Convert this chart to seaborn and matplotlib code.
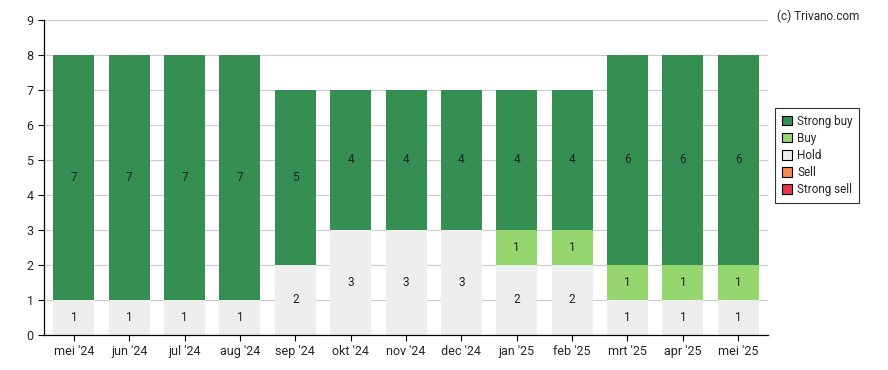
import pandas as pd
import numpy as np
import matplotlib
matplotlib.use("Agg")
import matplotlib.pyplot as plt
import seaborn as sns
from matplotlib.patches import Patch

# data
months = ["mei '24", "jun '24", "jul '24", "aug '24", "sep '24", "okt '24", "nov '24",
          "dec '24", "jan '25", "feb '25", "mrt '25", "apr '25", "mei '25"]
strong_sell = [0, 0, 0, 0, 0, 0, 0, 0, 0, 0, 0, 0, 0]
sell = [0, 0, 0, 0, 0, 0, 0, 0, 0, 0, 0, 0, 0]
hold = [1, 1, 1, 1, 2, 3, 3, 3, 2, 2, 1, 1, 1]
buy = [0, 0, 0, 0, 0, 0, 0, 0, 1, 1, 1, 1, 1]
strong_buy = [7, 7, 7, 7, 5, 4, 4, 4, 4, 4, 6, 6, 6]

series = [("Strong sell", strong_sell, "#e8334a"),
          ("Sell", sell, "#f98a4f"),
          ("Hold", hold, "#eeeeee"),
          ("Buy", buy, "#95d66e"),
          ("Strong buy", strong_buy, "#358f53")]

sns.set_style("white")
plt.rcParams['font.family'] = ['Roboto', 'DejaVu Sans']

fig = plt.figure(figsize=(8.88, 3.7), dpi=100)
ax = fig.add_axes([0.0495, 0.0946, 0.8155, 0.8514])

bottom = np.zeros(len(months))
for name, vals, col in series:
    vals = np.array(vals, dtype=float)
    df = pd.DataFrame({"month": months, "value": vals})
    sns.barplot(data=df, x="month", y="value", color=col, bottom=bottom,
                width=0.74, saturation=1, ax=ax, zorder=2, linewidth=0)
    for i, v in enumerate(vals):
        if v > 0:
            ax.text(i, bottom[i] + v / 2, f"{int(v)}", ha="center", va="center",
                    fontsize=8.5, color="#222222", zorder=3)
    bottom = bottom + vals

ax.set_ylim(0, 9)
ax.set_xlim(-0.54, len(months) - 0.46)
ax.set_yticks(range(0, 10))
ax.set_xlabel("")
ax.set_ylabel("")
ax.grid(axis="y", color="#cccccc", linewidth=0.8, zorder=0)
ax.set_axisbelow(True)
for s in ["top", "right"]:
    ax.spines[s].set_visible(False)
for s in ["left", "bottom"]:
    ax.spines[s].set_color("black")
    ax.spines[s].set_linewidth(0.9)
ax.tick_params(axis="both", length=4, width=0.8, color="black", labelsize=9,
               direction="out", bottom=True, left=True)

handles = [Patch(facecolor=c, edgecolor="black", linewidth=0.8, label=n)
           for n, v, c in reversed(series)]
leg = fig.legend(handles=handles, loc="upper left", bbox_to_anchor=(0.873, 0.708),
                 borderaxespad=0, fontsize=8.5, frameon=True, fancybox=False,
                 edgecolor="black", handlelength=0.9, handleheight=0.9,
                 handletextpad=0.4, labelspacing=0.35, borderpad=0.55)
leg.get_frame().set_linewidth(0.8)

fig.text(0.968, 0.975, "(c) Trivano.com", ha="right", va="top", fontsize=8.5)

fig.savefig("out.png", dpi=100)
